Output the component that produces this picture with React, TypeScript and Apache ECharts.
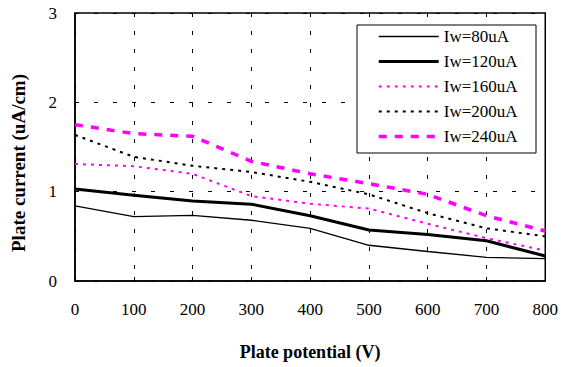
import React, { useEffect, useRef } from "react";
import * as echarts from "echarts";

const xValues = [0, 100, 200, 300, 400, 500, 600, 700, 800];
const seriesNames = ["Iw=80uA", "Iw=120uA", "Iw=160uA", "Iw=200uA", "Iw=240uA"];
const i80 = [0.84, 0.72, 0.735, 0.68, 0.59, 0.4, 0.33, 0.265, 0.25];
const i120 = [1.03, 0.96, 0.895, 0.86, 0.73, 0.57, 0.52, 0.45, 0.28];
const i160 = [1.31, 1.285, 1.2, 0.95, 0.865, 0.81, 0.64, 0.48, 0.34];
const i200 = [1.635, 1.39, 1.29, 1.22, 1.11, 0.97, 0.76, 0.59, 0.5];
const i240 = [1.75, 1.65, 1.62, 1.34, 1.2, 1.09, 0.97, 0.73, 0.56];

const FONT = "'Liberation Serif', 'Times New Roman', serif";

export default function App() {
  const ref = useRef<HTMLDivElement>(null);
  useEffect(() => {
    if (!ref.current) return;
    const chart = echarts.init(ref.current, null, { renderer: "svg" });
    const values = [i80, i120, i160, i200, i240];
    const styles = [
      { color: "#000000", width: 1.3, type: "solid" as any },
      { color: "#000000", width: 3, type: "solid" as any },
      { color: "#ff00ff", width: 2, type: [3, 5] as any },
      { color: "#000000", width: 2, type: [3, 5] as any },
      { color: "#ff00ff", width: 3.5, type: [8, 8] as any },
    ];
    chart.setOption({
      animation: false,
      backgroundColor: "#ffffff",
      textStyle: { fontFamily: FONT },
      grid: {
        left: 75,
        top: 13,
        right: 15,
        bottom: 86,
        show: true,
        borderColor: "#000000",
        borderWidth: 1.5,
        backgroundColor: "transparent",
      },
      xAxis: {
        type: "value",
        min: 0,
        max: 800,
        interval: 100,
        name: "Plate potential (V)",
        nameLocation: "middle",
        nameGap: 62,
        nameTextStyle: { fontFamily: FONT, fontSize: 18, fontWeight: "bold", color: "#000" },
        axisLine: { show: true, lineStyle: { color: "#000", width: 1.5 } },
        axisTick: { show: true, inside: true, length: 4, lineStyle: { color: "#000" } },
        axisLabel: { fontFamily: FONT, fontSize: 17, color: "#000", margin: 20 },
        splitLine: { show: true, lineStyle: { color: "#000", type: [4, 14], width: 1 } },
      },
      yAxis: {
        type: "value",
        min: 0,
        max: 3,
        interval: 1,
        axisLine: { show: true, lineStyle: { color: "#000", width: 1.5 } },
        axisTick: { show: true, inside: true, length: 4, lineStyle: { color: "#000" } },
        axisLabel: { fontFamily: FONT, fontSize: 17, color: "#000", margin: 18 },
        splitLine: { show: true, lineStyle: { color: "#000", type: [4, 15], width: 1 } },
      },
      legend: {
        orient: "vertical",
        left: 377,
        top: 28,
        padding: 0,
        itemWidth: 60,
        itemHeight: 14,
        itemGap: 8,
        itemStyle: { opacity: 0 },
        textStyle: { fontFamily: FONT, fontSize: 17, color: "#000" },
        data: seriesNames.map((name, i) => ({
          name,
          itemStyle: { opacity: 0 },
          lineStyle: { color: styles[i].color, width: styles[i].width, type: styles[i].type },
        })),
        z: 10,
      },
      graphic: [
        {
          type: "rect",
          z: 5,
          shape: { x: 357, y: 25, width: 179, height: 128 },
          style: { fill: "#ffffff", stroke: "#000000", lineWidth: 1 },
        },
        {
          type: "text",
          x: 18,
          y: 163,
          rotation: Math.PI / 2,
          style: {
            text: "Plate current (uA/cm)",
            fontFamily: FONT,
            fontSize: 19,
            fontWeight: "bold",
            fill: "#000",
            textAlign: "center",
            textVerticalAlign: "middle",
          },
        },
      ],
      series: seriesNames.map((name, i) => ({
        name,
        type: "line",
        symbol: "none",
        data: xValues.map((x, j) => [x, values[i][j]]),
        lineStyle: styles[i],
        itemStyle: { color: styles[i].color },
        z: 2 + i,
      })),
    });
    return () => chart.dispose();
  }, []);
  return (
    <div
      ref={ref}
      style={{ position: "fixed", left: 0, top: 0, width: 561, height: 367 }}
    />
  );
}
